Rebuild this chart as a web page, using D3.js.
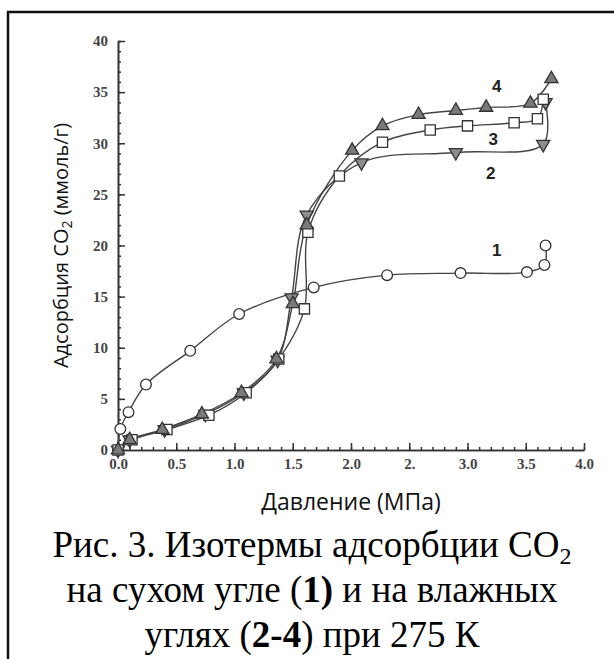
<!DOCTYPE html>
<html>
<head>
<meta charset="utf-8">
<script src="https://cdn.jsdelivr.net/npm/d3@7"></script>
<style>
  html, body { margin: 0; padding: 0; background: #fff; }
  svg { display: block; }
</style>
</head>
<body>
<script>
'use strict';

// pressure (MPa) / adsorption (mmol/g)
const dryP = [0, 0.02, 0.09, 0.24, 0.62, 1.04, 1.68, 2.31, 2.94, 3.51, 3.66, 3.67];
const dryA = [0, 2.05, 3.7, 6.4, 9.7, 13.3, 15.9, 17.1, 17.3, 17.4, 18.1, 20.0];

const wet2P = [0, 0.10, 0.40, 0.75, 1.08, 1.37, 1.49, 1.62, 2.09, 2.90, 3.65, 3.67];
const wet2A = [0, 1.0, 2.0, 3.5, 5.6, 8.8, 14.9, 23.0, 28.1, 29.1, 29.9, 34.0];

const wet3P = [0, 0.12, 0.42, 0.78, 1.10, 1.38, 1.60, 1.63, 1.90, 2.27, 2.68, 3.00, 3.40, 3.60, 3.65];
const wet3A = [0, 1.0, 2.0, 3.4, 5.6, 8.9, 13.8, 21.3, 26.8, 30.1, 31.3, 31.7, 32.0, 32.4, 34.3];

const wet4P = [0, 0.10, 0.38, 0.72, 1.06, 1.36, 1.50, 1.62, 2.01, 2.27, 2.58, 2.90, 3.16, 3.54, 3.72];
const wet4A = [0, 1.0, 2.0, 3.5, 5.6, 8.9, 14.3, 22.0, 29.3, 31.7, 32.8, 33.2, 33.5, 33.9, 36.3];

const xTicks = [0, 0.5, 1.0, 1.5, 2.0, 2.5, 3.0, 3.5, 4.0];
const xTickLabels = ['0.0', '0.5', '1.0', '1.5', '2.0', '2.', '3.0', '3.5', '4.0'];
const yTicks = [0, 5, 10, 15, 20, 25, 30, 35, 40];

const curveNames = ['1', '2', '3', '4'];
const curveNameAt = [[3.25, 19.6], [3.2, 27.1], [3.22, 30.4], [3.25, 35.6]];

const W = 614, H = 659;
const plot = {left: 118, right: 584, top: 41, bottom: 450};

let x = d3.scaleLinear().domain([0, 4]).range([plot.left, plot.right]);
let y = d3.scaleLinear().domain([0, 40]).range([plot.bottom, plot.top]);

let svg = d3.select('body').append('svg')
    .attr('width', W)
    .attr('height', H);

// frame round the figure (left and top edges show)
svg.append('path')
    .attr('d', 'M8,' + H + 'V12H' + W)
    .attr('fill', 'none')
    .attr('stroke', '#111')
    .attr('stroke-width', 2.5);

// axes: major + minor ticks pointing inwards
function styleAxis(g) {
  g.select('.domain').attr('stroke', '#333').attr('stroke-width', 1.6);
  g.selectAll('.tick line').attr('stroke', '#333').attr('stroke-width', 1.5);
  g.selectAll('.tick text')
      .attr('font-family', '"Liberation Serif", "Times New Roman", serif')
      .attr('font-size', 15)
      .attr('font-weight', 'bold')
      .attr('fill', '#444');
}

svg.append('g')
    .attr('transform', 'translate(0,' + plot.bottom + ')')
    .call(d3.axisBottom(x).tickValues(d3.range(0, 40.5, 1).map(d => d / 10))
      .tickSize(-3).tickSizeOuter(0).tickFormat(''))
    .call(styleAxis);

svg.append('g')
    .attr('transform', 'translate(0,' + plot.bottom + ')')
    .call(d3.axisBottom(x).tickValues(xTicks).tickSize(-7).tickSizeOuter(0)
      .tickPadding(8).tickFormat((d, i) => xTickLabels[i]))
    .call(styleAxis);

svg.append('g')
    .attr('transform', 'translate(' + plot.left + ',0)')
    .call(d3.axisLeft(y).tickValues(d3.range(0, 41, 1)).tickSize(-3).tickSizeOuter(0).tickFormat(''))
    .call(styleAxis);

svg.append('g')
    .attr('transform', 'translate(' + plot.left + ',0)')
    .call(d3.axisLeft(y).tickValues(yTicks).tickSize(-7).tickSizeOuter(0).tickPadding(10))
    .call(styleAxis);

// curves
const series = [
  {p: dryP, a: dryA, symbol: d3.symbolCircle, size: 90, fill: '#fff', rot: 0},
  {p: wet2P, a: wet2A, symbol: d3.symbolTriangle, size: 75, fill: '#8c8c8c', rot: 180},
  {p: wet3P, a: wet3A, symbol: d3.symbolSquare, size: 105, fill: '#fff', rot: 0},
  {p: wet4P, a: wet4A, symbol: d3.symbolTriangle, size: 75, fill: '#7a7a7a', rot: 0}
];

let line = d3.line()
    .x(d => x(d[0]))
    .y(d => y(d[1]))
    .curve(d3.curveCatmullRom.alpha(0.5));

series.forEach(function (s) {
  let pts = s.p.map((v, i) => [v, s.a[i]]);
  svg.append('path')
      .datum(pts)
      .attr('d', line)
      .attr('fill', 'none')
      .attr('stroke', '#444')
      .attr('stroke-width', 1.4);
});

series.forEach(function (s) {
  let pts = s.p.map((v, i) => [v, s.a[i]]);
  svg.append('g').selectAll('path')
      .data(pts).enter()
      .append('path')
      .attr('d', d3.symbol().type(s.symbol).size(s.size))
      .attr('transform', d => 'translate(' + x(d[0]) + ',' + y(d[1]) + ') rotate(' + s.rot + ')')
      .attr('fill', s.fill)
      .attr('stroke', '#333')
      .attr('stroke-width', 1.3);
});

// curve numbers
svg.append('g').selectAll('text')
    .data(curveNames).enter()
    .append('text')
    .attr('x', (d, i) => x(curveNameAt[i][0]))
    .attr('y', (d, i) => y(curveNameAt[i][1]))
    .attr('dy', '0.35em')
    .attr('text-anchor', 'middle')
    .attr('font-family', '"Liberation Sans", Arial, sans-serif')
    .attr('font-weight', 'bold')
    .attr('font-size', 17)
    .attr('fill', '#222')
    .text(d => d);

// axis titles
let yTitle = svg.append('text')
    .attr('transform', 'translate(68,' + ((plot.top + plot.bottom) / 2) + ') rotate(-90)')
    .attr('text-anchor', 'middle')
    .attr('font-family', '"Open Sans", sans-serif')
    .attr('font-size', 20)
    .attr('fill', '#111');
yTitle.append('tspan').text('Адсорбция CO');
yTitle.append('tspan').attr('font-size', 14).attr('dy', 4).text('2');
yTitle.append('tspan').attr('dy', -4).text(' (ммоль/г)');

svg.append('text')
    .attr('x', (plot.left + plot.right) / 2)
    .attr('y', 510)
    .attr('text-anchor', 'middle')
    .attr('font-family', '"Open Sans", sans-serif')
    .attr('font-size', 23)
    .attr('fill', '#111')
    .text('Давление (МПа)');

// caption
const capFont = '"Liberation Serif", "Times New Roman", serif';
const capX = 312;

let cap1 = svg.append('text')
    .attr('x', capX).attr('y', 557)
    .attr('text-anchor', 'middle')
    .attr('font-family', capFont).attr('font-size', 37).attr('fill', '#000');
cap1.append('tspan').text('Рис. 3. Изотермы адсорбции CO');
cap1.append('tspan').attr('font-size', 24).attr('dy', 7).text('2');

let cap2 = svg.append('text')
    .attr('x', capX).attr('y', 602)
    .attr('text-anchor', 'middle')
    .attr('font-family', capFont).attr('font-size', 37).attr('fill', '#000');
cap2.append('tspan').text('на сухом угле (');
cap2.append('tspan').attr('font-weight', 'bold').text('1)');
cap2.append('tspan').text(' и на влажных');

let cap3 = svg.append('text')
    .attr('x', capX).attr('y', 647)
    .attr('text-anchor', 'middle')
    .attr('font-family', capFont).attr('font-size', 37).attr('fill', '#000');
cap3.append('tspan').text('углях (');
cap3.append('tspan').attr('font-weight', 'bold').text('2-4');
cap3.append('tspan').text(') при 275 К');
</script>
</body>
</html>
